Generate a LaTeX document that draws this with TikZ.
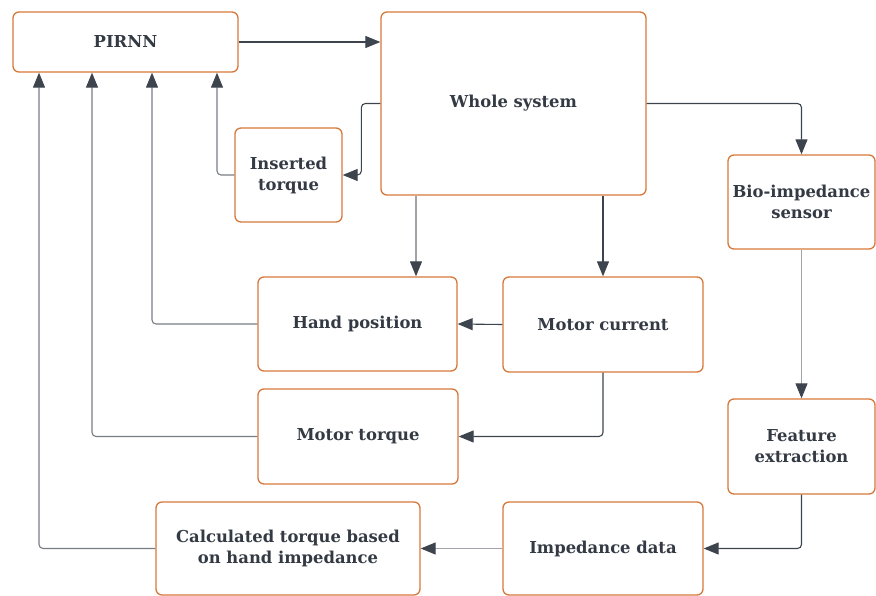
\documentclass[tikz,border=0pt]{standalone}
\usepackage{fontspec}
\setmainfont{DejaVu Serif}
\usetikzlibrary{arrows.meta}
\definecolor{boxorange}{RGB}{214,120,58}
\definecolor{txt}{RGB}{52,58,68}
\definecolor{darkln}{RGB}{62,68,78}
\definecolor{grayln}{RGB}{160,163,168}
\definecolor{midln}{RGB}{120,124,130}
\tikzset{
  box/.style={draw=boxorange, line width=1.3pt, rounded corners=6pt, fill=white,
    text=txt, font=\fontsize{16.4}{21}\selectfont\bfseries, align=center, inner sep=2pt},
  conn/.style={line width=1.1pt, rounded corners=4pt,
    -{Triangle[length=15pt,width=12pt,color=darkln]}},
  dk/.style={conn, draw=darkln},
  md/.style={conn, draw=midln},
  gy/.style={conn, draw=grayln},
}
\begin{document}
\begin{tikzpicture}[x=1pt,y=-1pt]
\useasboundingbox (0,0) rectangle (876,596);
\node[box, minimum width=225, minimum height=60] (pirnn) at (125.5,42) {PIRNN};
\node[box, minimum width=265, minimum height=183] (whole) at (513.5,103.5) {Whole system};
\node[box, minimum width=107, minimum height=94] (ins) at (288.5,175) {Inserted\\torque};
\node[box, minimum width=147, minimum height=94] (bio) at (801.5,202) {Bio-impedance\\sensor};
\node[box, minimum width=199, minimum height=94] (hand) at (357.5,324) {Hand position};
\node[box, minimum width=200, minimum height=95] (mc) at (603,324.5) {Motor current};
\node[box, minimum width=200, minimum height=95] (mt) at (358,436.5) {Motor torque};
\node[box, minimum width=147, minimum height=95] (fe) at (801.5,446.5) {Feature\\extraction};
\node[box, minimum width=200, minimum height=93] (imp) at (603,548.5) {Impedance data};
\node[box, minimum width=264, minimum height=93] (calc) at (288,548.5) {Calculated torque based\\on hand impedance};

\draw[dk] (pirnn.east) -- (whole.west |- pirnn.east);
\draw[dk] (whole.west) -- ++(-19,0) |- (ins.east);
\draw[md] (ins.west) -| ([xshift=91.5pt]pirnn.south);
\draw[md] (hand.west) -| ([xshift=26.5pt]pirnn.south);
\draw[md] (mt.west) -| ([xshift=-33.5pt]pirnn.south);
\draw[md] (calc.west) -| ([xshift=-86.5pt]pirnn.south);
\draw[gy] ([xshift=-97.5pt]whole.south) -- ([xshift=58.5pt]hand.north);
\draw[dk] ([xshift=89.5pt]whole.south) -- (mc.north);
\draw[dk] (mc.west) -- (hand.east);
\draw[dk] (mc.south) |- (mt.east);
\draw[dk] (whole.east) -| (bio.north);
\draw[gy] (bio.south) -- (fe.north);
\draw[dk] (fe.south) |- (imp.east);
\draw[gy] (imp.west) -- (calc.east);
\end{tikzpicture}
\end{document}
